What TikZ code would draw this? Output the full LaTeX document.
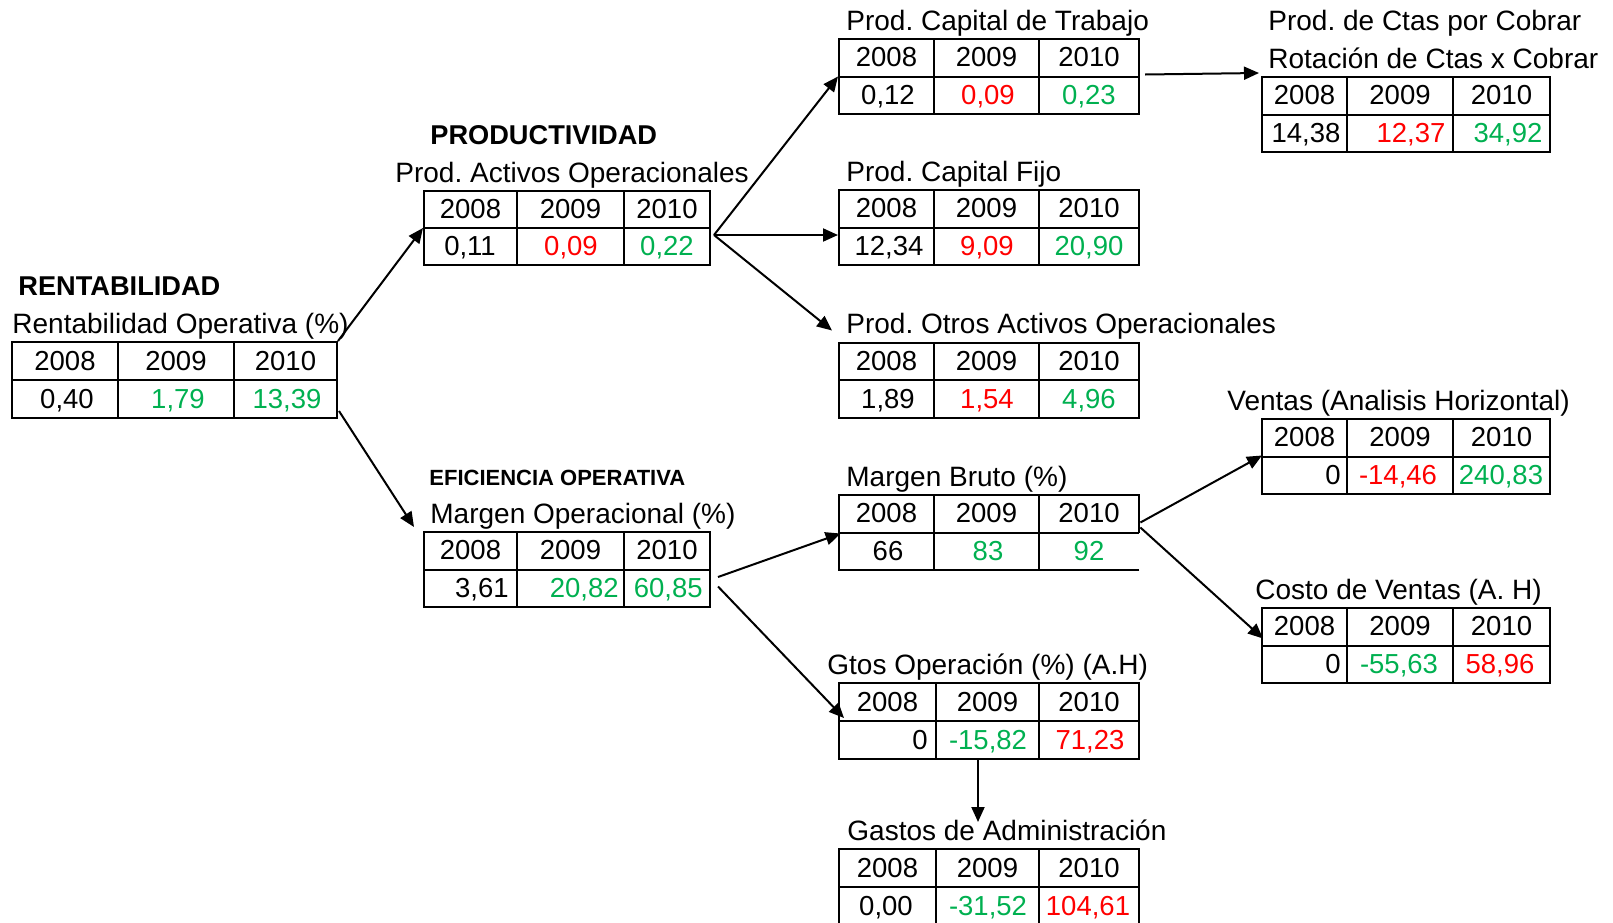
\documentclass[tikz,border=0pt]{standalone}
\usepackage{fontspec}
\setmainfont{Liberation Sans}
\usetikzlibrary{fit,calc,arrows.meta}
\definecolor{vred}{RGB}{255,0,0}
\definecolor{vgreen}{RGB}{0,176,80}
\frenchspacing
\newcommand\nfont{\fontsize{13.75pt}{16pt}\selectfont}
\newcommand\tfont{\fontsize{14pt}{16pt}\selectfont}
\newcommand\bfbig{\fontsize{13.6pt}{16pt}\selectfont\bfseries}
\newcommand\bfsmall{\fontsize{11pt}{13pt}\selectfont\bfseries}
\tikzset{
  tabline/.style={line width=1pt},
  tabbox/.style={draw, line width=1pt, inner sep=0pt},
  conn/.style={line width=1pt, -{Triangle[length=7.5pt,width=6.5pt]}},
  cell/.style={anchor=base, inner sep=0pt, font=\nfont},
  celle/.style={anchor=base east, inner sep=0pt, font=\nfont},
  ttl/.style={anchor=base west, inner sep=0pt, font=\tfont},
  bttl/.style={anchor=base west, inner sep=0pt, font=\bfbig},
  sttl/.style={anchor=base west, inner sep=0pt, font=\bfsmall},
}
% name, xl, xr, c1, c2, ytop, ybottom
\newcommand\mktable[7]{%
  \node[tabbox, fit={(#2,#6) (#3,#7)}] (#1) {};
  \draw[tabline] (#1.west) -- (#1.east) (#4,#6) -- (#4,#7) (#5,#6) -- (#5,#7);
}
% name, baseline, x1, x2, x3
\newcommand\hdr[5]{%
  \node[cell] (#1h1) at (#3,#2) {2008};
  \node[cell] (#1h2) at (#4,#2) {2009};
  \node[cell] (#1h3) at (#5,#2) {2010};
}
\begin{document}
\begin{tikzpicture}[x=0.5pt, y=-0.5pt]
\useasboundingbox (0,0) rectangle (1613,922);
\clip (0,0) rectangle (1613,922);

% ---------- T1 Rentabilidad
\node[bttl] (t1b) at (18,295) {RENTABILIDAD};
\node[ttl] (t1t) at (12,333) {Rentabilidad Operativa (\%)};
\mktable{t1}{12}{337}{118}{234}{342}{418}
\hdr{t1}{370}{65}{176}{285.5}
\node[cell] (t1v1) at (67,408) {0,40};
\node[cell, text=vgreen] (t1v2) at (178,408) {1,79};
\node[cell, text=vgreen] (t1v3) at (287,408) {13,39};

% ---------- T2 Prod. Activos
\node[bttl] (t2b) at (430,144) {PRODUCTIVIDAD};
\node[ttl] (t2t) at (395,182) {Prod. Activos Operacionales};
\mktable{t2}{424}{710}{517}{624}{191}{265}
\hdr{t2}{218}{470.5}{570.5}{667}
\node[cell] (t2v1) at (470,255) {0,11};
\node[cell, text=vred] (t2v2) at (571,255) {0,09};
\node[cell, text=vgreen] (t2v3) at (667,255) {0,22};

% ---------- T3 Capital de Trabajo
\node[ttl] (t3t) at (846,30) {Prod. Capital de Trabajo};
\mktable{t3}{839}{1139}{934}{1039}{39}{114}
\hdr{t3}{66.5}{886.5}{986.5}{1089}
\node[cell] (t3v1) at (888,104) {0,12};
\node[cell, text=vred] (t3v2) at (988,104) {0,09};
\node[cell, text=vgreen] (t3v3) at (1089,104) {0,23};

% ---------- T4 Ctas por Cobrar
\node[ttl] (t4a) at (1268,30) {Prod. de Ctas por Cobrar};
\node[ttl] (t4t) at (1268,68) {Rotación de Ctas x Cobrar};
\mktable{t4}{1262}{1550}{1347}{1453}{77}{152}
\hdr{t4}{104.5}{1304.5}{1400}{1501.5}
\node[cell] (t4v1) at (1306,142) {14,38};
\node[cell, text=vred] (t4v2) at (1411,142) {12,37};
\node[cell, text=vgreen] (t4v3) at (1508,142) {34,92};

% ---------- T5 Capital Fijo
\node[ttl] (t5t) at (846,181) {Prod. Capital Fijo};
\mktable{t5}{839}{1139}{934}{1039}{190}{265}
\hdr{t5}{217.5}{886.5}{986.5}{1089}
\node[cell] (t5v1) at (889,255) {12,34};
\node[cell, text=vred] (t5v2) at (987,255) {9,09};
\node[cell, text=vgreen] (t5v3) at (1089,255) {20,90};

% ---------- T6 Otros Activos
\node[ttl] (t6t) at (846,333.5) {Prod. Otros Activos Operacionales};
\mktable{t6}{839}{1139}{934}{1039}{342.5}{418}
\hdr{t6}{370}{886.5}{986.5}{1089}
\node[cell] (t6v1) at (888,408) {1,89};
\node[cell, text=vred] (t6v2) at (987,408) {1,54};
\node[cell, text=vgreen] (t6v3) at (1089,408) {4,96};

% ---------- T7 Ventas
\node[ttl] (t7t) at (1227,410) {Ventas (Analisis Horizontal)};
\mktable{t7}{1262}{1550}{1347}{1453}{419}{494}
\hdr{t7}{446.5}{1304.5}{1400}{1501.5}
\node[celle] (t7v1) at (1341,484) {0};
\node[cell, text=vred] (t7v2) at (1398,484) {-14,46};
\node[cell, text=vgreen] (t7v3) at (1501,484) {240,83};

% ---------- T8 Margen Bruto
\node[ttl] (t8t) at (846,486) {Margen Bruto (\%)};
\node[fit={(839,495) (1139,570)}, inner sep=0pt] (t8) {};
\draw[tabline] (t8.south east) -- (t8.south west) -- (t8.north west) -- (t8.north east) -- (t8.east)
  (t8.west) -- (t8.east) (934,495) -- (934,570) (1039,495) -- (1039,570);
\hdr{t8}{522.5}{886.5}{986.5}{1089}
\node[cell] (t8v1) at (888,560) {66};
\node[cell, text=vgreen] (t8v2) at (988,560) {83};
\node[cell, text=vgreen] (t8v3) at (1089,560) {92};

% ---------- T9 Margen Operacional
\node[sttl] (t9b) at (429,485) {EFICIENCIA OPERATIVA};
\node[ttl] (t9t) at (430,523) {Margen Operacional (\%)};
\mktable{t9}{424}{710}{517}{624}{532}{607}
\hdr{t9}{559.5}{470.5}{570.5}{667}
\node[celle] (t9v1) at (509,597) {3,61};
\node[celle, text=vgreen] (t9v2) at (619,597) {20,82};
\node[celle, text=vgreen] (t9v3) at (703,597) {60,85};

% ---------- T10 Costo de Ventas
\node[ttl] (t10t) at (1255,599) {Costo de Ventas (A. H)};
\mktable{t10}{1262}{1550}{1347}{1453}{608}{683}
\hdr{t10}{635.5}{1304.5}{1400}{1501.5}
\node[celle] (t10v1) at (1341,673) {0};
\node[cell, text=vgreen] (t10v2) at (1399,673) {-55,63};
\node[cell, text=vred] (t10v3) at (1500,673) {58,96};

% ---------- T11 Gtos Operacion
\node[ttl] (t11t) at (827,674) {Gtos Operación (\%) (A.H)};
\mktable{t11}{839}{1139}{936}{1039}{683}{759}
\hdr{t11}{711}{887.5}{987.5}{1089}
\node[celle] (t11v1) at (928,749) {0};
\node[cell, text=vgreen] (t11v2) at (988,749) {-15,82};
\node[cell, text=vred] (t11v3) at (1090,749) {71,23};

% ---------- T12 Gastos de Administracion
\node[ttl] (t12t) at (847,840) {Gastos de Administración};
\mktable{t12}{839}{1139}{936}{1039}{849}{925}
\hdr{t12}{877}{887.5}{987.5}{1089}
\node[cell] (t12v1) at (886,915) {0,00};
\node[cell, text=vgreen] (t12v2) at (988,915) {-31,52};
\node[cell, text=vred] (t12v3) at (1088,915) {104,61};

% ---------- connectors
\coordinate (s2) at ($(t2.east)+(3,7)$);
\coordinate (s9a) at ($(t9.east)+(7,7.5)$);
\coordinate (s9b) at ($(t9.east)+(7,17)$);
\draw[conn] (t1.north east) -- (t2.west);
\draw[conn] ($(t1.south east)+(1,-8)$) -- ($(t9.north west)+(-9,-4)$);
\draw[conn] (s2) -- (t3.west);
\draw[conn] (s2) -- (s2 -| t5.west);
\draw[conn] (s2) -- ($(t6.north west)+(-6,-11)$);
\draw[conn] ($(t3.east)+(5,-2)$) -- ($(t4.north west)+(-2,-3)$);
\draw[conn] (s9a) -- ($(t8.west)+(2,1)$);
\draw[conn] (s9b) -- ($(t11.west)+(6,-3)$);
\draw[conn] ($(t8.east)+(1,-10)$) -- ($(t7.west)+(1,-1)$);
\draw[conn] ($(t8.east)+(1,-5)$) -- ($(t10.west)+(2,-7)$);
\draw[conn] ($(t11.south)+(-11,0)$) -- ($(t12.north)+(-11,-26)$);
\end{tikzpicture}
\end{document}
